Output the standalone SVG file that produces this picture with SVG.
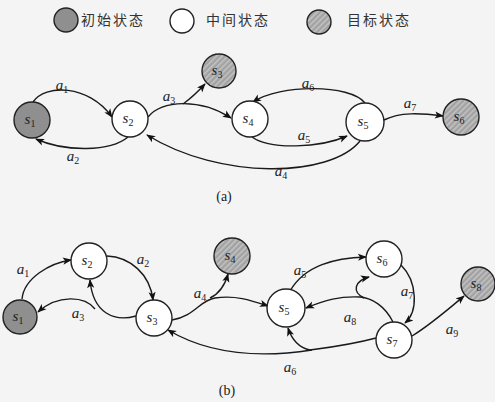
<svg xmlns="http://www.w3.org/2000/svg" width="495" height="402" viewBox="0 0 495 402">
<defs>
<pattern id="hatch" patternUnits="userSpaceOnUse" width="4" height="4" patternTransform="rotate(45)">
<rect width="4" height="4" fill="#a2a2a2"/>
<rect width="1.5" height="4" fill="#c4c4c4"/>
</pattern>
<marker id="arr" viewBox="0 0 10 10" refX="9" refY="5" markerWidth="9" markerHeight="9" markerUnits="userSpaceOnUse" orient="auto">
<path d="M0,1 L10,5 L0,9 L2.5,5 Z" fill="#111"/>
</marker>
<style>
.n{stroke:#222;stroke-width:1.4}
.w{fill:#fff}
.i{fill:#8f8f8f}
.g{fill:url(#hatch)}
.e{fill:none;stroke:#1a1a1a;stroke-width:1.4}
.ea{fill:none;stroke:#1a1a1a;stroke-width:1.4;marker-end:url(#arr)}
.t{font-family:"Liberation Serif",serif;font-style:italic;font-size:15px;fill:#222;text-anchor:middle}
.sub{font-style:normal;font-size:10px}
.c{font-family:"Liberation Serif",serif;font-size:14px;fill:#222;text-anchor:middle}
.zh{font-family:"Noto Sans CJK SC",sans-serif;font-size:14px;fill:#333;letter-spacing:2px}
</style>
</defs>
<rect width="495" height="402" fill="#f4f4f4"/>
<g id="legend">
<circle class="n i" cx="66" cy="20" r="12"/>
<text class="zh" x="81" y="25">初始状态</text>
<circle class="n w" cx="182" cy="21" r="12"/>
<text class="zh" x="206" y="25">中间状态</text>
<circle class="n g" cx="319" cy="22" r="12"/>
<text class="zh" x="347" y="25">目标状态</text>
</g>
<g id="connectors-a">
<path class="ea" d="M33,102 C45,84 88,84 112,117"/>
<path class="ea" d="M128,137 C110,152 65,152 36,139"/>
<path class="ea" d="M148,117 C162,100 200,98 231,118"/>
<path class="ea" d="M183,104 Q194,96 205,84"/>
<path class="ea" d="M365,103 C350,84 280,84 253,102"/>
<path class="ea" d="M252,137 C270,150 320,148 347,136"/>
<path class="ea" d="M360,141 C330,178 220,180 147,135"/>
<path class="ea" d="M384,120 C400,112 420,113 443,116"/>
</g>
<g id="labels-a">
<text class="t" x="62" y="90">a<tspan class="sub" dy="3">1</tspan></text>
<text class="t" x="73" y="161">a<tspan class="sub" dy="3">2</tspan></text>
<text class="t" x="169" y="101">a<tspan class="sub" dy="3">3</tspan></text>
<text class="t" x="281" y="176">a<tspan class="sub" dy="3">4</tspan></text>
<text class="t" x="304" y="140">a<tspan class="sub" dy="3">5</tspan></text>
<text class="t" x="308" y="88">a<tspan class="sub" dy="3">6</tspan></text>
<text class="t" x="410" y="108">a<tspan class="sub" dy="3">7</tspan></text>
<text class="c" x="224" y="201">(a)</text>
</g>
<g id="a-s1"><circle class="n i" cx="32" cy="120" r="18"/><text class="t" x="30" y="124">s<tspan class="sub" dy="3">1</tspan></text></g>
<g id="a-s2"><circle class="n w" cx="130" cy="119" r="18"/><text class="t" x="128" y="123">s<tspan class="sub" dy="3">2</tspan></text></g>
<g id="a-s3"><circle class="n g" cx="219" cy="71" r="17"/><text class="t" x="217" y="75">s<tspan class="sub" dy="3">3</tspan></text></g>
<g id="a-s4"><circle class="n w" cx="250" cy="119" r="18"/><text class="t" x="248" y="123">s<tspan class="sub" dy="3">4</tspan></text></g>
<g id="a-s5"><circle class="n w" cx="365" cy="122" r="19"/><text class="t" x="363" y="126">s<tspan class="sub" dy="3">5</tspan></text></g>
<g id="a-s6"><circle class="n g" cx="461" cy="117" r="18"/><text class="t" x="459" y="121">s<tspan class="sub" dy="3">6</tspan></text></g>
<g id="connectors-b">
<path class="ea" d="M22,299 C24,278 50,263 71,260"/>
<path class="ea" d="M107,256 C130,257 150,274 153,300"/>
<path class="ea" d="M136,316 C115,322 93,314 90,280"/>
<path class="ea" d="M95,309 C85,296 58,294 38,312"/>
<path class="ea" d="M172,320 C195,316 200,300 215,298 C235,295 250,300 268,306"/>
<path class="ea" d="M210,298 Q223,292 228,274"/>
<path class="ea" d="M290,291 C305,265 335,258 366,257"/>
<path class="ea" d="M401,265 C418,282 418,312 405,323"/>
<path class="ea" d="M393,322 C385,306 372,298 360,297 C340,296 325,300 306,308"/>
<path class="ea" d="M364,298 C352,292 354,281 369,277"/>
<path class="ea" d="M376,338 C350,345 325,348 310,350 C300,348 292,340 288,328"/>
<path class="ea" d="M312,350 C260,358 210,355 168,330"/>
<path class="ea" d="M412,336 C430,325 445,312 464,296"/>
</g>
<g id="labels-b">
<text class="t" x="23" y="274">a<tspan class="sub" dy="3">1</tspan></text>
<text class="t" x="143" y="264">a<tspan class="sub" dy="3">2</tspan></text>
<text class="t" x="78" y="318">a<tspan class="sub" dy="3">3</tspan></text>
<text class="t" x="200" y="298">a<tspan class="sub" dy="3">4</tspan></text>
<text class="t" x="300" y="275">a<tspan class="sub" dy="3">5</tspan></text>
<text class="t" x="290" y="372">a<tspan class="sub" dy="3">6</tspan></text>
<text class="t" x="407" y="296">a<tspan class="sub" dy="3">7</tspan></text>
<text class="t" x="350" y="322">a<tspan class="sub" dy="3">8</tspan></text>
<text class="t" x="452" y="334">a<tspan class="sub" dy="3">9</tspan></text>
<text class="c" x="227" y="395">(b)</text>
</g>
<g id="b-s1"><circle class="n i" cx="20" cy="317" r="17"/><text class="t" x="18" y="321">s<tspan class="sub" dy="3">1</tspan></text></g>
<g id="b-s2"><circle class="n w" cx="89" cy="261" r="18"/><text class="t" x="87" y="265">s<tspan class="sub" dy="3">2</tspan></text></g>
<g id="b-s3"><circle class="n w" cx="154" cy="318" r="18"/><text class="t" x="152" y="322">s<tspan class="sub" dy="3">3</tspan></text></g>
<g id="b-s4"><circle class="n g" cx="232" cy="256" r="18"/><text class="t" x="230" y="260">s<tspan class="sub" dy="3">4</tspan></text></g>
<g id="b-s5"><circle class="n w" cx="286" cy="308" r="19"/><text class="t" x="284" y="312">s<tspan class="sub" dy="3">5</tspan></text></g>
<g id="b-s6"><circle class="n w" cx="384" cy="259" r="18"/><text class="t" x="382" y="263">s<tspan class="sub" dy="3">6</tspan></text></g>
<g id="b-s7"><circle class="n w" cx="394" cy="340" r="18"/><text class="t" x="392" y="344">s<tspan class="sub" dy="3">7</tspan></text></g>
<g id="b-s8"><circle class="n g" cx="478" cy="284" r="17"/><text class="t" x="476" y="288">s<tspan class="sub" dy="3">8</tspan></text></g>
</svg>
